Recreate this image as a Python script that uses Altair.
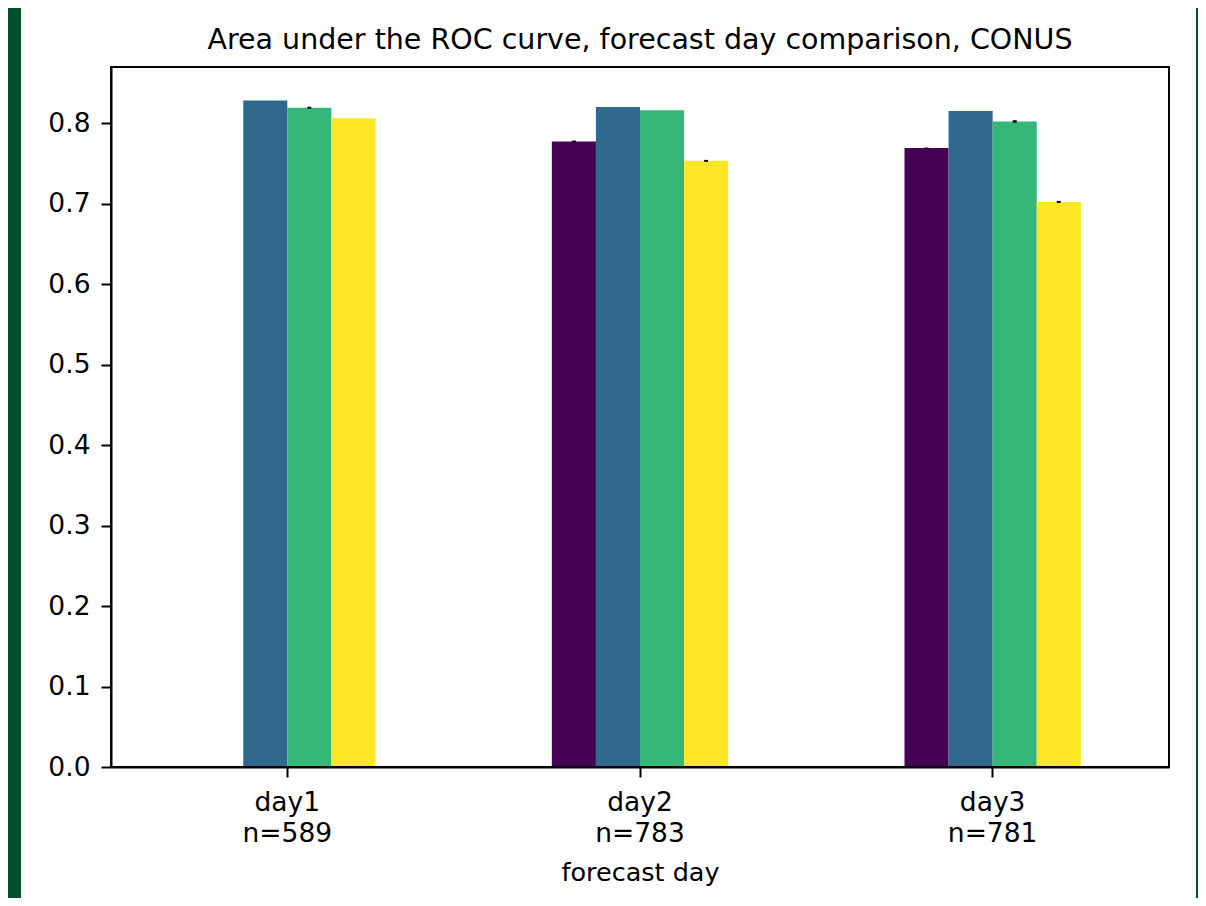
import altair as alt
import pandas as pd

# ---- data ----
days = ["day1", "day2", "day3"]
counts = [589, 783, 781]
series_names = ["series 1", "series 2", "series 3", "series 4"]
auc_s1 = [None, 0.777, 0.769]
auc_s2 = [0.828, 0.820, 0.815]
auc_s3 = [0.819, 0.816, 0.802]
auc_s4 = [0.806, 0.753, 0.702]
err_s1 = [None, 0.0012, 0.0006]
err_s2 = [0.0, 0.0, 0.0]
err_s3 = [0.0012, 0.0, 0.0015]
err_s4 = [0.0, 0.0012, 0.0012]
colors = ["#440154", "#31688e", "#35b779", "#fde725"]
y_ticks = [0.0, 0.1, 0.2, 0.3, 0.4, 0.5, 0.6, 0.7, 0.8]
title_text = "Area under the ROC curve, forecast day comparison, CONUS"
x_title = "forecast day"

labels = [f"{d}\nn={n}" for d, n in zip(days, counts)]
rows = []
for name, vals, errs in zip(series_names, [auc_s1, auc_s2, auc_s3, auc_s4],
                            [err_s1, err_s2, err_s3, err_s4]):
    for lab, v, e in zip(labels, vals, errs):
        if v is None:
            continue
        rows.append({"label": lab, "series": name, "auc": v,
                     "err": e, "lo": v - e, "hi": v + e})
df = pd.DataFrame(rows)
df_err = df[df["err"] > 0]

FONT = "DejaVu Sans"
W, H = 1058, 700

x_enc = alt.X(
    "label:N", sort=labels,
    scale=alt.Scale(paddingInner=0.5, paddingOuter=0.25),
    axis=alt.Axis(
        title=x_title, labelAngle=0, labelAlign="center", labelBaseline="top",
        labelExpr="split(datum.value, '\\n')", labelLineHeight=31,
        labelFontSize=26.5, labelPadding=12, titleFontSize=25.5,
        titleFontWeight="normal", titleY=113, titleBaseline="alphabetic",
        zindex=2,
    ),
)
xoff = alt.XOffset("series:N", sort=series_names,
                   scale=alt.Scale(domain=series_names, paddingInner=0, paddingOuter=0))
y_scale = alt.Scale(domain=[0, 0.8696], nice=False, zero=True)

panel = alt.Chart(pd.DataFrame({"a": [0]})).mark_rect(color="white").encode(
    x=alt.value(-90), x2=alt.value(1085), y=alt.value(-59), y2=alt.value(831)
)

bars = alt.Chart(df).mark_bar(strokeWidth=0).encode(
    x=x_enc,
    xOffset=xoff,
    y=alt.Y("auc:Q", scale=y_scale,
            axis=alt.Axis(title=None, values=y_ticks, format=".1f",
                          labelFontSize=26.5, labelPadding=11, zindex=2)),
    color=alt.Color("series:N", scale=alt.Scale(domain=series_names, range=colors),
                    legend=None),
)

errs = alt.Chart(df_err).mark_rule(color="black", strokeWidth=4, strokeCap="butt").encode(
    x=alt.X("label:N", sort=labels),
    xOffset=xoff,
    y=alt.Y("lo:Q", scale=y_scale),
    y2="hi:Q",
)

frame = alt.Chart(pd.DataFrame({"a": [0]})).mark_rect(
    fill=None, fillOpacity=0, stroke="black", strokeWidth=2
).encode(x=alt.value(0), x2=alt.value(W), y=alt.value(0), y2=alt.value(H))

title = alt.Chart(pd.DataFrame({"a": [0]})).mark_text(
    fontSize=28.5, font=FONT, align="center", baseline="alphabetic", color="black"
).encode(x=alt.value(W / 2), y=alt.value(-18), text=alt.value(title_text))

chart = alt.layer(panel, bars, errs, frame, title).properties(
    width=W, height=H,
    autosize=alt.AutoSizeParams(type="none"),
    padding={"left": 103, "top": 59, "right": 29, "bottom": 131},
    background="#03502A",
).configure_view(
    stroke=None
).configure_axis(
    grid=False, domainColor="black", domainWidth=2, tickColor="black",
    tickWidth=2, tickSize=10, labelColor="black", titleColor="black",
    labelFont=FONT, titleFont=FONT,
).configure_text(font=FONT)

chart.save("out.html", embed_options={"renderer": "svg", "actions": False})
